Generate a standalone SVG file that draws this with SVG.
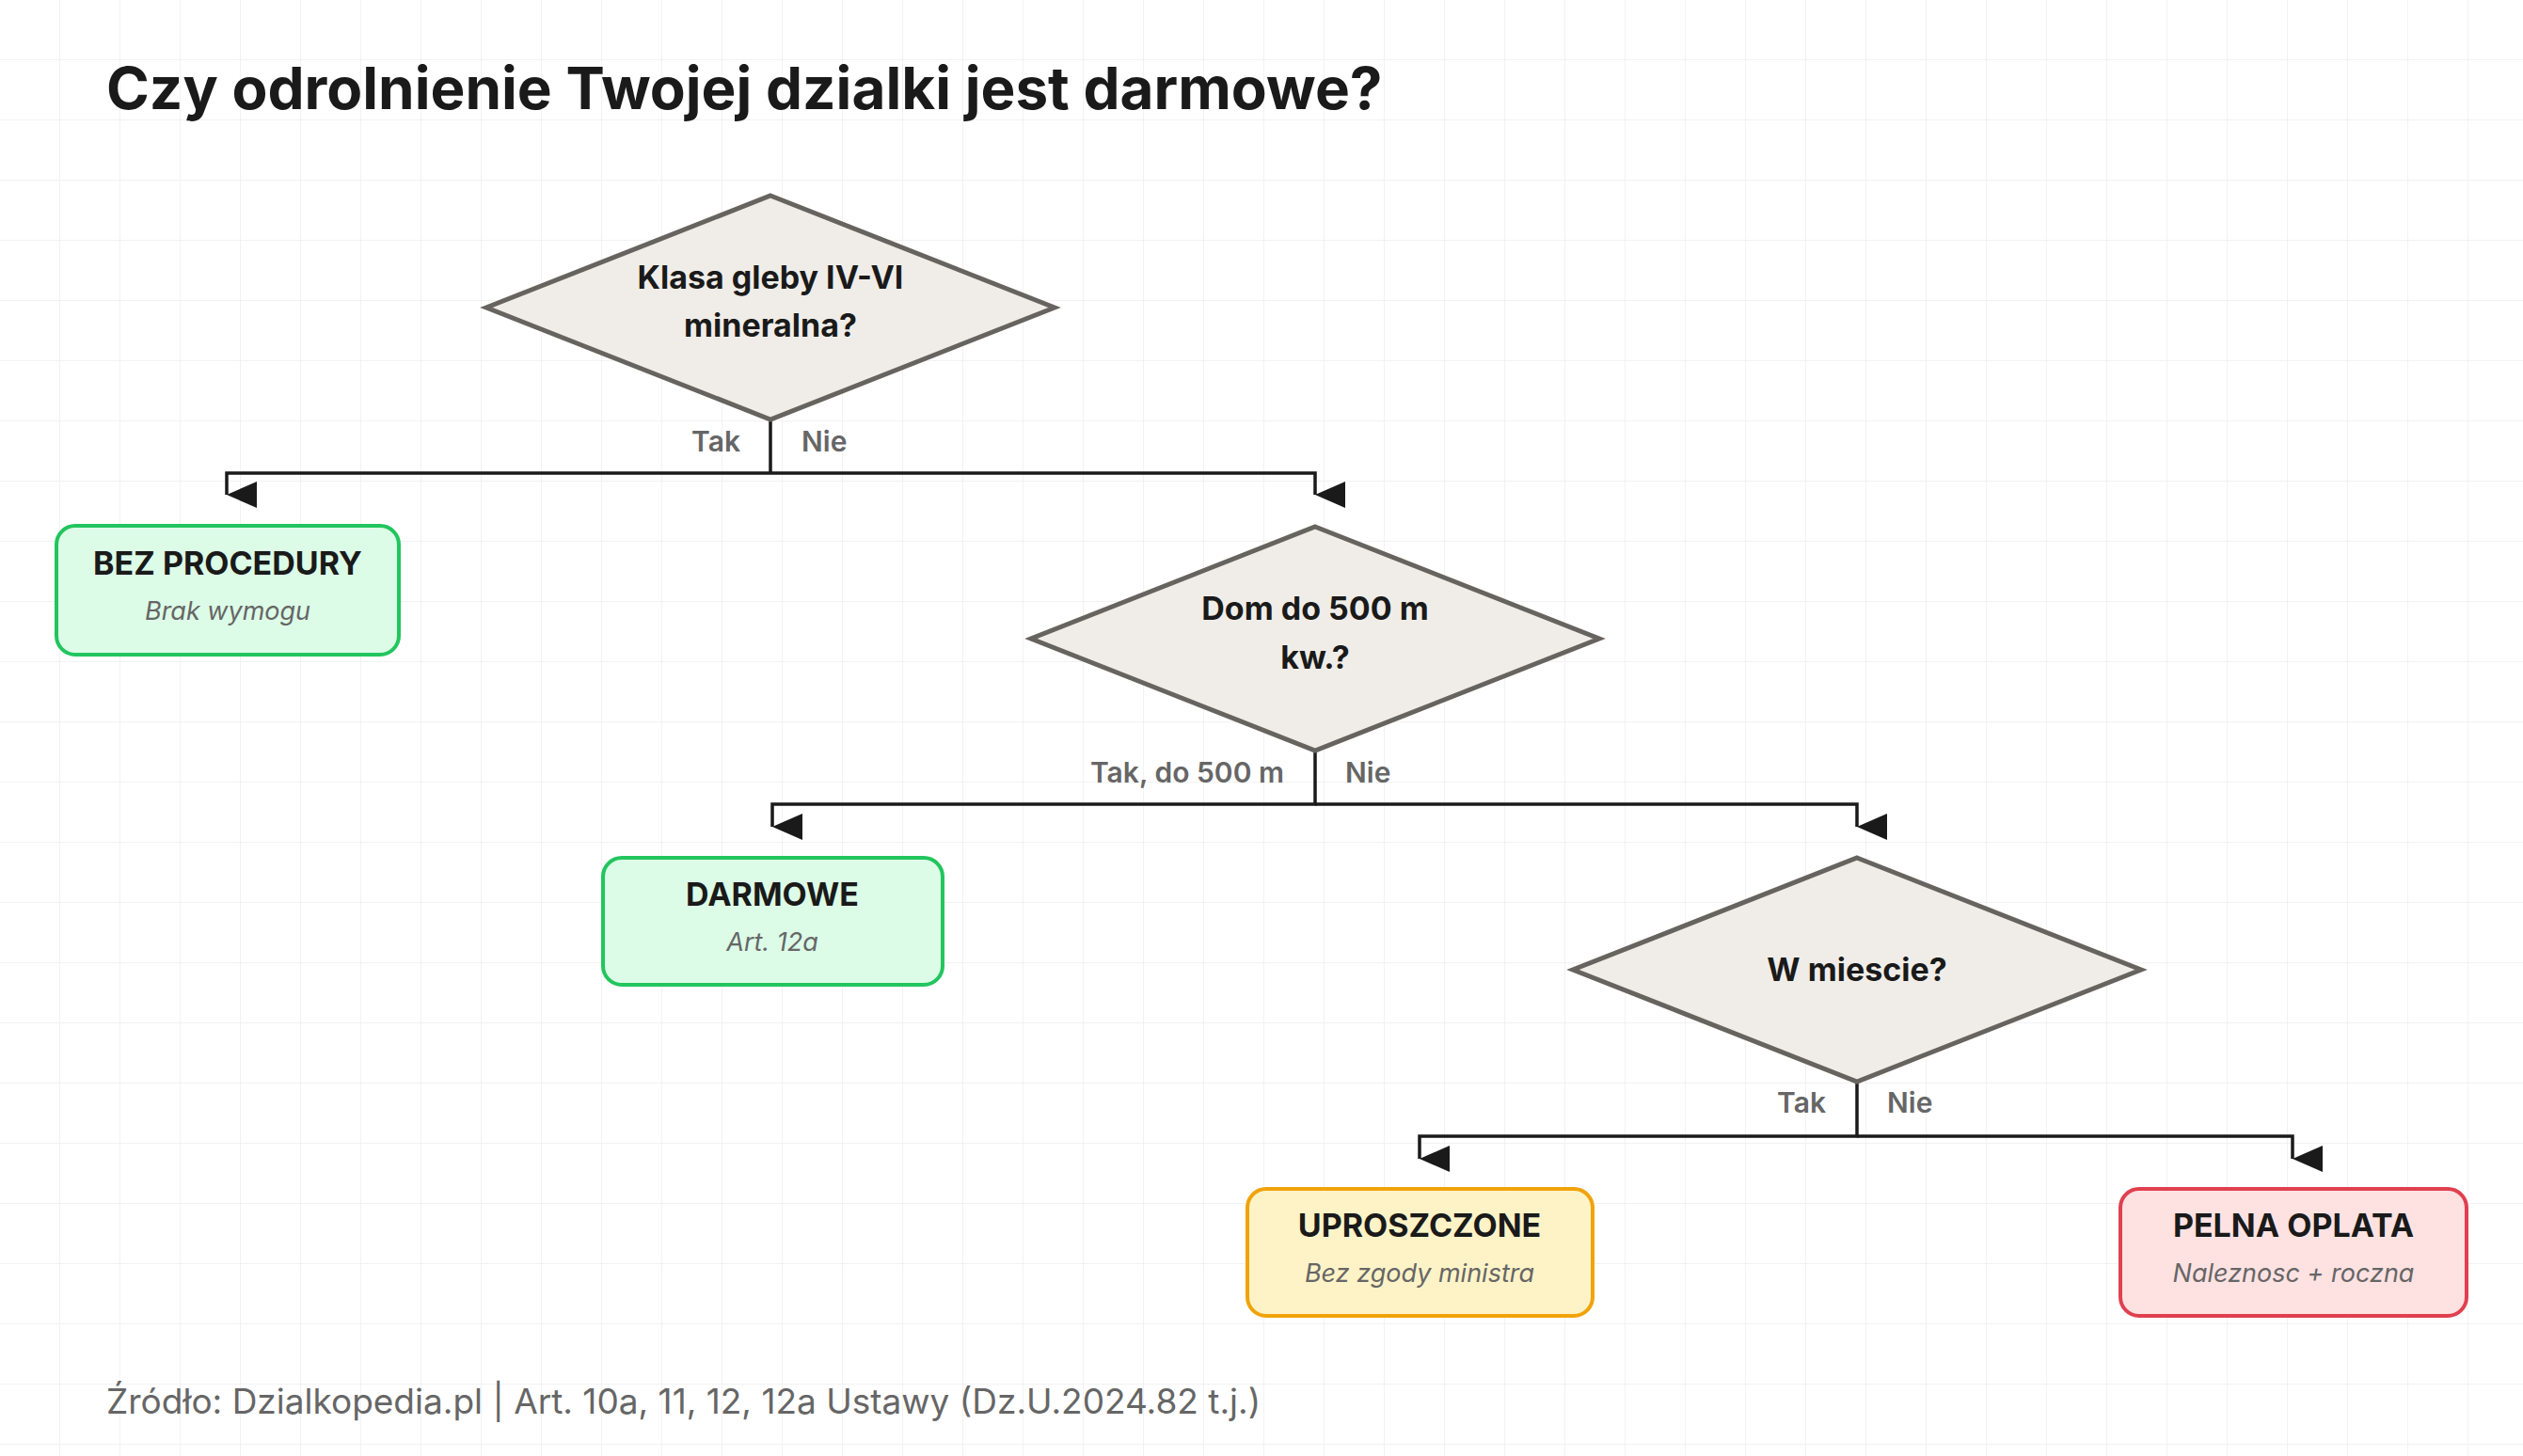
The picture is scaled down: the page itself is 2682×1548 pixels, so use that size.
<svg xmlns="http://www.w3.org/2000/svg" width="2682" height="1548" viewBox="0 0 2682 1548">
<defs>
<pattern id="grid" width="64" height="64" patternUnits="userSpaceOnUse"><path d="M64 0V64M0 64H64" fill="none" stroke="#eeeeee" stroke-width="1.5"/></pattern>
<marker id="arr" markerUnits="userSpaceOnUse" markerWidth="28" markerHeight="32" refX="14" refY="32" orient="auto-start-reverse" viewBox="0 0 28 32"><path d="M0 0L28 0L14 32Z" fill="#1a1a1a"/></marker>
</defs>
<style>
text{font-family:Inter,"Noto Sans","Liberation Sans",sans-serif}
.dia{fill:#f0ede8;stroke:#67635e;stroke-width:5}
.dt{font-size:34px;font-weight:700;fill:#1a1a1a;text-anchor:middle}
.bt{font-size:34px;font-weight:700;fill:#1a1a1a;text-anchor:middle}
.bs{font-size:27px;font-style:italic;fill:#666;text-anchor:middle}
.lb{font-size:30px;font-weight:600;fill:#666}
.c{fill:none;stroke:#1a1a1a;stroke-width:3.5}
.g{fill:#dcfce7;stroke:#22c55e;stroke-width:4}
.y{fill:#fef3c7;stroke:#f0a30a;stroke-width:4}
.r{fill:#fee2e2;stroke:#e04050;stroke-width:4}
</style>
<rect width="2682" height="1548" fill="#fff"/>
<rect width="2682" height="1548" fill="url(#grid)"/>
<text x="113" y="116" font-size="62" font-weight="700" fill="#1a1a1a">Czy odrolnienie Twojej dzialki jest darmowe?</text>
<g id="connectors">
<path class="c" d="M819 447V503M819 503H241V526" marker-end="url(#arr)"/>
<path class="c" d="M819 503H1398V526" marker-end="url(#arr)"/>
<path class="c" d="M1398 799V855H821V879" marker-end="url(#arr)"/>
<path class="c" d="M1398 855H1974V879" marker-end="url(#arr)"/>
<path class="c" d="M1974 1151V1208H1509V1232" marker-end="url(#arr)"/>
<path class="c" d="M1974 1208H2437V1232" marker-end="url(#arr)"/>
<text class="lb" x="787" y="480" text-anchor="end">Tak</text>
<text class="lb" x="852" y="480">Nie</text>
<text class="lb" x="1365" y="832" text-anchor="end">Tak, do 500 m</text>
<text class="lb" x="1430" y="832">Nie</text>
<text class="lb" x="1941" y="1183" text-anchor="end">Tak</text>
<text class="lb" x="2006" y="1183">Nie</text>
</g>
<g id="d1"><path class="dia" d="M819 208L1121 327L819 446L517 327Z"/><text class="dt" x="819" y="307">Klasa gleby IV-VI</text><text class="dt" x="819" y="358">mineralna?</text></g>
<g id="b1"><rect class="g" x="60" y="559" width="364" height="137" rx="20"/><text class="bt" x="242" y="611">BEZ PROCEDURY</text><text class="bs" x="242" y="659">Brak wymogu</text></g>
<g id="d2"><path class="dia" d="M1398 560L1700 679L1398 798L1096 679Z"/><text class="dt" x="1398" y="659">Dom do 500 m</text><text class="dt" x="1398" y="711">kw.?</text></g>
<g id="b2"><rect class="g" x="641" y="912" width="361" height="135" rx="20"/><text class="bt" x="821" y="963">DARMOWE</text><text class="bs" x="821" y="1011">Art. 12a</text></g>
<g id="d3"><path class="dia" d="M1974 912L2276 1031L1974 1150L1672 1031Z"/><text class="dt" x="1974" y="1043">W miescie?</text></g>
<g id="b3"><rect class="y" x="1326" y="1264" width="367" height="135" rx="20"/><text class="bt" x="1509" y="1315">UPROSZCZONE</text><text class="bs" x="1509" y="1363">Bez zgody ministra</text></g>
<g id="b4"><rect class="r" x="2254" y="1264" width="368" height="135" rx="20"/><text class="bt" x="2438" y="1315">PELNA OPLATA</text><text class="bs" x="2438" y="1363">Naleznosc + roczna</text></g>
<text x="113" y="1503" font-size="37" fill="#666">Źródło: Dzialkopedia.pl | Art. 10a, 11, 12, 12a Ustawy (Dz.U.2024.82 t.j.)</text>
</svg>
